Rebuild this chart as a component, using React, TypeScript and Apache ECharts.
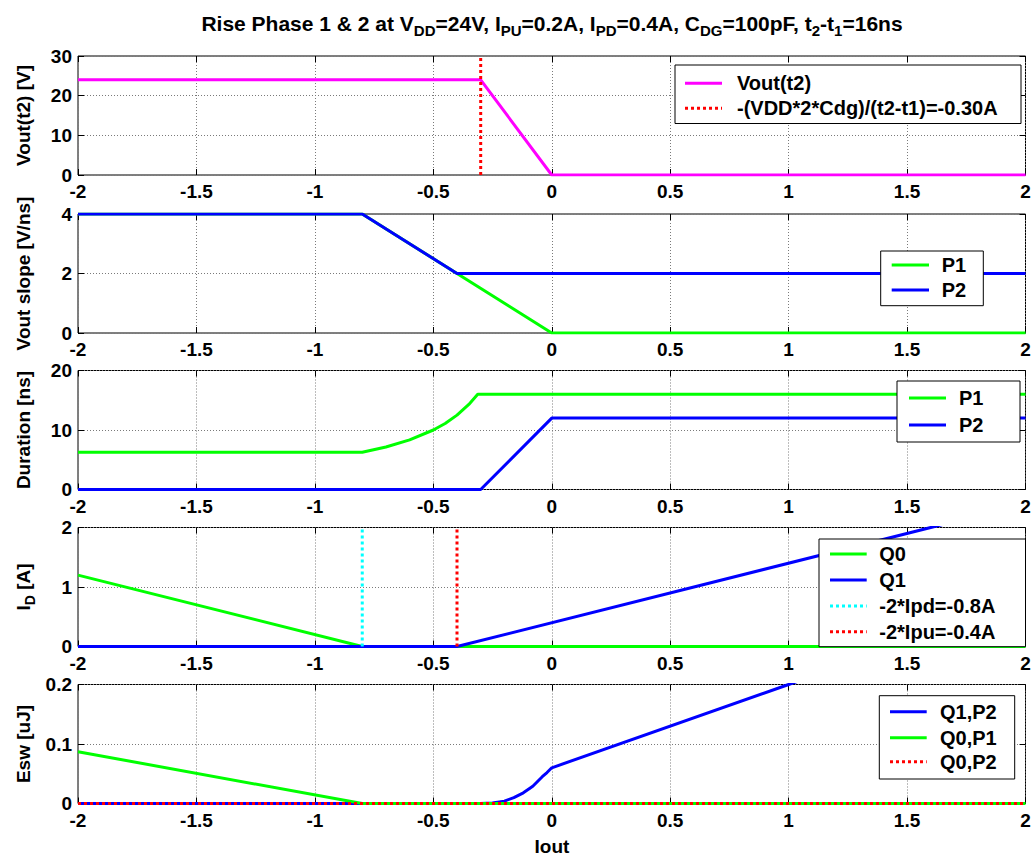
import React, { useEffect, useRef } from "react";
import * as echarts from "echarts";

// ---- data -------------------------------------------------------------
const xTicks = [-2, -1.5, -1, -0.5, 0, 0.5, 1, 1.5, 2];

// Vout at t2 [V] vs Iout [A]
const voutT2 = [[-2, 24], [-0.3, 24], [0, 0], [2, 0]];
const voutLimit = [[-0.3, 0], [-0.3, 30]];

// Vout slope [V/ns]
const slopeP1 = [[-2, 4], [-0.8, 4], [0, 0], [2, 0]];
const slopeP2 = [[-2, 4], [-0.8, 4], [-0.4, 2], [2, 2]];

// Phase durations [ns]
const durationP1 = [
  [-2, 6.25], [-0.8, 6.25], [-0.7, 7.14], [-0.6, 8.33], [-0.5, 10],
  [-0.45, 11.1], [-0.4, 12.5], [-0.35, 14.3], [-0.3125, 16], [2, 16],
];
const durationP2 = [[-2, 0], [-0.3, 0], [0, 12], [2, 12]];

// Drain currents [A]
const idQ0 = [[-2, 1.2], [-0.8, 0], [2, 0]];
const idQ1 = [[-2, 0], [-0.4, 0], [1.6, 2], [2, 2.4]];
const ipdLimit = [[-0.8, 0], [-0.8, 2]];
const ipuLimit = [[-0.4, 0], [-0.4, 2]];

// Switching energy [uJ]
const eswQ1P2 = [
  [-2, 0], [-0.3, 0], [-0.25, 0.001], [-0.2, 0.004], [-0.16, 0.01],
  [-0.12, 0.018], [-0.08, 0.029], [-0.04, 0.045], [-0.02, 0.052],
  [0, 0.06], [1, 0.2], [2, 0.34],
];
const eswQ0P1 = [[-2, 0.087], [-0.8, 0], [2, 0]];
const eswQ0P2 = [[-2, 0], [2, 0]];

// ---- layout / style ---------------------------------------------------
const FONT = '"Liberation Sans", Arial, Helvetica, sans-serif';
const PLOT_LEFT = 78;
const PLOT_WIDTH = 947.5;
const PLOT_HEIGHT = 119;
const PLOT_TOPS = [56, 214, 370.5, 527.5, 684.5];

const GREEN = "#00ff00";
const BLUE = "#0000ff";
const RED = "#ff0000";
const CYAN = "#00ffff";
const MAGENTA = "#ff00ff";
const DOT: number[] = [3, 3];

type Curve = { data: number[][]; color: string; dashed?: boolean; label: string };

type Panel = {
  yMin: number;
  yMax: number;
  yStep: number;
  yLabel: string;
  curves: Curve[];
  legend: { x: number; y: number; w: number; h: number; rows: number[]; s0: number; s1: number; tx: number };
};

const panels: Panel[] = [
  {
    yMin: 0, yMax: 30, yStep: 10, yLabel: "Vout(t2) [V]",
    curves: [
      { data: voutT2, color: MAGENTA, label: "Vout(t2)" },
      { data: voutLimit, color: RED, dashed: true, label: "-(VDD*2*Cdg)/(t2-t1)=-0.30A" },
    ],
    legend: { x: 675, y: 65, w: 346, h: 58.5, rows: [83.3, 108.3], s0: 685, s1: 722, tx: 737 },
  },
  {
    yMin: 0, yMax: 4, yStep: 2, yLabel: "Vout slope [V/ns]",
    curves: [
      { data: slopeP1, color: GREEN, label: "P1" },
      { data: slopeP2, color: BLUE, label: "P2" },
    ],
    legend: { x: 880.7, y: 251, w: 102.6, h: 54.7, rows: [265, 290], s0: 891.7, s1: 929, tx: 941.7 },
  },
  {
    yMin: 0, yMax: 20, yStep: 10, yLabel: "Duration [ns]",
    curves: [
      { data: durationP1, color: GREEN, label: "P1" },
      { data: durationP2, color: BLUE, label: "P2" },
    ],
    legend: { x: 897, y: 381, w: 123, h: 61, rows: [398, 425], s0: 909, s1: 946, tx: 959 },
  },
  {
    yMin: 0, yMax: 2, yStep: 1, yLabel: "I{s|D} [A]",
    curves: [
      { data: idQ0, color: GREEN, label: "Q0" },
      { data: idQ1, color: BLUE, label: "Q1" },
      { data: ipdLimit, color: CYAN, dashed: true, label: "-2*Ipd=-0.8A" },
      { data: ipuLimit, color: RED, dashed: true, label: "-2*Ipu=-0.4A" },
    ],
    legend: { x: 819, y: 539, w: 206.5, h: 107.7, rows: [554, 580, 606, 631.7], s0: 830, s1: 866.7, tx: 879.3 },
  },
  {
    yMin: 0, yMax: 0.2, yStep: 0.1, yLabel: "Esw [uJ]",
    curves: [
      { data: eswQ1P2, color: BLUE, label: "Q1,P2" },
      { data: eswQ0P1, color: GREEN, label: "Q0,P1" },
      { data: eswQ0P2, color: RED, dashed: true, label: "Q0,P2" },
    ],
    legend: { x: 879.3, y: 695.7, w: 135.4, h: 83.3, rows: [711.7, 737.7, 761.7], s0: 890, s1: 926.7, tx: 940 },
  },
];

const TITLE =
  "Rise Phase 1 & 2 at V{s|DD}=24V, I{s|PU}=0.2A, I{s|PD}=0.4A, C{s|DG}=100pF, t{s|2}-t{s|1}=16ns";

const fmt = (v: number) => String(Math.round(v * 1000) / 1000);

function buildOption() {
  const grid: any[] = [];
  const xAxis: any[] = [];
  const yAxis: any[] = [];
  const series: any[] = [];
  const graphic: any[] = [];

  const tickStyle = { show: true, inside: true, length: 6, lineStyle: { color: "#000", width: 1 } };
  const gridLine = { show: true, lineStyle: { color: "#7a7a7a", width: 1, type: [1, 2] } };
  const labelStyle = { color: "#000", fontSize: 19, fontWeight: "bold", fontFamily: FONT };

  panels.forEach((p, i) => {
    const top = PLOT_TOPS[i];
    grid.push({
      left: PLOT_LEFT, top, width: PLOT_WIDTH, height: PLOT_HEIGHT,
      show: true, borderColor: "#000", borderWidth: 1, backgroundColor: "#fff",
    });
    // bottom & top x axes
    xAxis.push({
      type: "value", gridIndex: i, position: "bottom", min: xTicks[0], max: xTicks[xTicks.length - 1], interval: 0.5,
      axisLine: { show: false, onZero: false }, axisTick: tickStyle,
      axisLabel: { ...labelStyle, margin: 7, formatter: fmt, showMinLabel: true, showMaxLabel: true },
      splitLine: gridLine,
    });
    xAxis.push({
      type: "value", gridIndex: i, position: "top", min: xTicks[0], max: xTicks[xTicks.length - 1], interval: 0.5,
      axisLine: { show: false, onZero: false }, axisTick: tickStyle,
      axisLabel: { show: false }, splitLine: { show: false },
    });
    // left & right y axes
    yAxis.push({
      type: "value", gridIndex: i, position: "left", min: p.yMin, max: p.yMax, interval: p.yStep,
      axisLine: { show: false, onZero: false }, axisTick: tickStyle,
      axisLabel: { ...labelStyle, margin: 6, formatter: fmt },
      splitLine: gridLine,
    });
    yAxis.push({
      type: "value", gridIndex: i, position: "right", min: p.yMin, max: p.yMax, interval: p.yStep,
      axisLine: { show: false, onZero: false }, axisTick: tickStyle,
      axisLabel: { show: false }, splitLine: { show: false },
    });

    p.curves.forEach((c, k) => {
      series.push({
        type: "line",
        name: `${i}-${c.label}`,
        xAxisIndex: 2 * i,
        yAxisIndex: 2 * i,
        data: c.data,
        symbol: "none",
        showSymbol: false,
        clip: true,
        z: 2 + k,
        lineStyle: { color: c.color, width: 3, type: c.dashed ? DOT : "solid", cap: "butt" },
      });
    });

    // y label
    graphic.push({
      type: "text",
      x: 23,
      y: top + PLOT_HEIGHT / 2,
      rotation: Math.PI / 2,
      z: 50,
      style: {
        text: p.yLabel,
        x: 0, y: 0,
        align: "center", verticalAlign: "middle",
        fill: "#000", font: `bold 19px ${FONT}`,
        lineHeight: 27,
        rich: { s: { fontSize: 14, fontWeight: "bold", fontFamily: FONT, verticalAlign: "bottom", fill: "#000" } },
      },
    });

    // legend box
    const L = p.legend;
    graphic.push({
      type: "rect", z: 60,
      shape: { x: L.x, y: L.y, width: L.w, height: L.h },
      style: { fill: "#fff", stroke: "#000", lineWidth: 1 },
    });
    p.curves.forEach((c, k) => {
      const yy = L.rows[k];
      graphic.push({
        type: "line", z: 61,
        shape: { x1: L.s0, y1: yy, x2: L.s1, y2: yy },
        style: { stroke: c.color, lineWidth: 3, lineDash: c.dashed ? DOT : null },
      });
      graphic.push({
        type: "text", z: 61,
        style: {
          text: c.label, x: L.tx, y: yy, align: "left", verticalAlign: "middle",
          fill: "#000", font: `bold 20px ${FONT}`,
        },
      });
    });
  });

  // title
  graphic.push({
    type: "text", z: 50,
    style: {
      text: TITLE, x: 552, y: 23, align: "center", verticalAlign: "middle",
      fill: "#000", font: `bold 21px ${FONT}`, lineHeight: 30,
      rich: { s: { fontSize: 15, fontWeight: "bold", fontFamily: FONT, verticalAlign: "bottom", fill: "#000" } },
    },
  });
  // x label
  graphic.push({
    type: "text", z: 50,
    style: {
      text: "Iout", x: 552, y: 846, align: "center", verticalAlign: "middle",
      fill: "#000", font: `bold 19px ${FONT}`,
    },
  });

  return {
    animation: false,
    backgroundColor: "#fff",
    grid, xAxis, yAxis, series, graphic,
  };
}

export default function App() {
  const ref = useRef<HTMLDivElement>(null);
  useEffect(() => {
    if (!ref.current) return;
    const chart = echarts.init(ref.current, null, { renderer: "svg" });
    chart.setOption(buildOption());
    return () => chart.dispose();
  }, []);
  return (
    <div
      ref={ref}
      style={{ position: "fixed", left: 0, top: 0, width: 1034, height: 860, background: "#fff" }}
    />
  );
}
